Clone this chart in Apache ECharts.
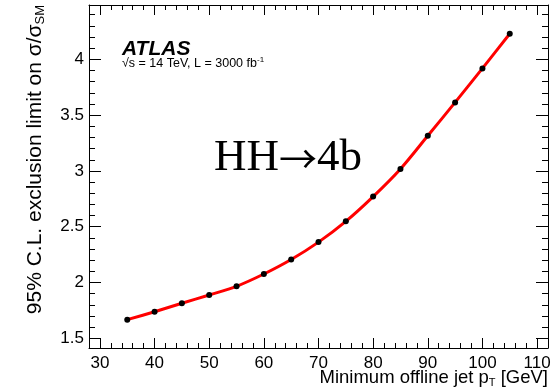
<!DOCTYPE html>
<html lang="en">
<head>
    <meta charset="UTF-8">
    <title>HH 4b limit</title>
    <script src="https://cdn.jsdelivr.net/npm/echarts@6/dist/echarts.min.js"></script>
    <style>
        html, body{
            margin: 0;
            padding: 0;
            background: #fff;
        }
        #main{
            width: 558px;
            height: 389px;
        }
    </style>
</head>
<body>
<div id="main"></div>
<script>
    // minimum offline jet pT [GeV] and expected limit on sigma/sigma_SM
    var ptCuts = [35, 40, 45, 50, 55, 60, 65, 70, 75, 80, 85, 90, 95, 100, 105];
    var limits = [1.667, 1.738, 1.814, 1.888, 1.966, 2.076, 2.206, 2.362, 2.548, 2.770, 3.018, 3.315, 3.614, 3.919, 4.229];

    // tick labels
    var xTicks = [30, 40, 50, 60, 70, 80, 90, 100, 110];
    var yTicks = [1.5, 2, 2.5, 3, 3.5, 4];

    var points = [];
    for (var i = 0; i < ptCuts.length; i++) {
        points.push([ptCuts[i], limits[i]]);
    }

    var font = 'Liberation Sans, Arial, sans-serif';

    function xAxisOf(pos, showLabel) {
        return {
            type: 'value',
            position: pos,
            min: 28,
            max: 112,
            splitNumber: 8,
            axisLine: {show: true, onZero: false, lineStyle: {color: '#000', width: 1}},
            axisTick: {show: true, inside: true, length: 10, customValues: xTicks, lineStyle: {color: '#000'}},
            minorTick: {show: true, splitNumber: 5, length: 5, lineStyle: {color: '#000'}},
            splitLine: {show: false},
            axisLabel: {
                show: showLabel,
                customValues: xTicks,
                margin: 7,
                color: '#000',
                fontSize: 17,
                fontFamily: font
            }
        };
    }

    function yAxisOf(pos, showLabel) {
        return {
            type: 'value',
            position: pos,
            min: 1.413,
            max: 4.487,
            splitNumber: 6,
            axisLine: {show: true, onZero: false, lineStyle: {color: '#000', width: 1}},
            axisTick: {show: true, inside: true, length: 12, customValues: yTicks, lineStyle: {color: '#000'}},
            minorTick: {show: true, splitNumber: 5, length: 6, lineStyle: {color: '#000'}},
            splitLine: {show: false},
            axisLabel: {
                show: showLabel,
                customValues: yTicks,
                margin: 5,
                color: '#000',
                fontSize: 17,
                fontFamily: font
            }
        };
    }

    var xBottom = xAxisOf('bottom', true);
    xBottom.name = 'Minimum offline jet p{sub|T} [GeV]';
    xBottom.nameLocation = 'end';
    xBottom.nameGap = 0;
    xBottom.nameMoveOverlap = false;
    xBottom.nameTextStyle = {
        align: 'right',
        verticalAlign: 'top',
        padding: [20, 0, 0, 0],
        color: '#000',
        fontSize: 18.5,
        fontFamily: font,
        rich: {
            sub: {fontSize: 11, verticalAlign: 'bottom', padding: [9, 0, 0, 0], fontFamily: font, color: '#000'}
        }
    };

    var yLeft = yAxisOf('left', true);
    yLeft.name = '95% C.L. exclusion limit on σ/σ{sub|SM}';
    yLeft.nameLocation = 'end';
    yLeft.nameGap = 0;
    yLeft.nameRotate = 90;
    yLeft.nameMoveOverlap = false;
    yLeft.nameTextStyle = {
        align: 'right',
        verticalAlign: 'bottom',
        padding: [0, 0, 42, 0],
        color: '#000',
        fontSize: 21,
        fontFamily: font,
        rich: {
            sub: {fontSize: 13, verticalAlign: 'bottom', padding: [10, 0, 0, 0], fontFamily: font, color: '#000'}
        }
    };

    var option = {
        backgroundColor: '#fff',
        animation: false,
        grid: {
            left: 89,
            right: 10,
            top: 5,
            bottom: 41,
            containLabel: false,
            outerBoundsMode: 'none'
        },
        xAxis: [xBottom, xAxisOf('top', false)],
        yAxis: [yLeft, yAxisOf('right', false)],
        graphic: [
            {
                type: 'text',
                left: 122,
                top: 39,
                style: {
                    text: 'ATLAS',
                    font: 'italic bold 21px Liberation Sans, Arial, sans-serif',
                    fill: '#000'
                }
            },
            {
                type: 'text',
                left: 122,
                top: 56,
                style: {
                    text: '{a|√s = 14 TeV, L = 3000 fb}{s|-1}',
                    rich: {
                        a: {fontSize: 12.5, fontFamily: font, fill: '#000'},
                        s: {fontSize: 8, fontFamily: font, fill: '#000', verticalAlign: 'top', padding: [0, 0, 7, 0]}
                    }
                }
            },
            {
                type: 'text',
                left: 214,
                top: 136,
                style: {
                    text: '{t|HH}{a|→}{t|4b}',
                    rich: {
                        t: {fontSize: 45, fontFamily: 'Liberation Serif, DejaVu Serif, serif', fill: '#000'},
                        a: {fontSize: 38, fontFamily: 'Noto Sans CJK SC, sans-serif', fill: '#000'}
                    }
                }
            }
        ],
        series: [
            {
                name: 'limit',
                type: 'line',
                xAxisIndex: 0,
                yAxisIndex: 0,
                data: points,
                smooth: 0.3,
                symbol: 'circle',
                symbolSize: 6,
                lineStyle: {color: '#f00', width: 3},
                itemStyle: {color: '#000'}
            }
        ]
    };

    var myChart = echarts.init(document.getElementById('main'));
    myChart.setOption(option);
</script>
</body>
</html>
